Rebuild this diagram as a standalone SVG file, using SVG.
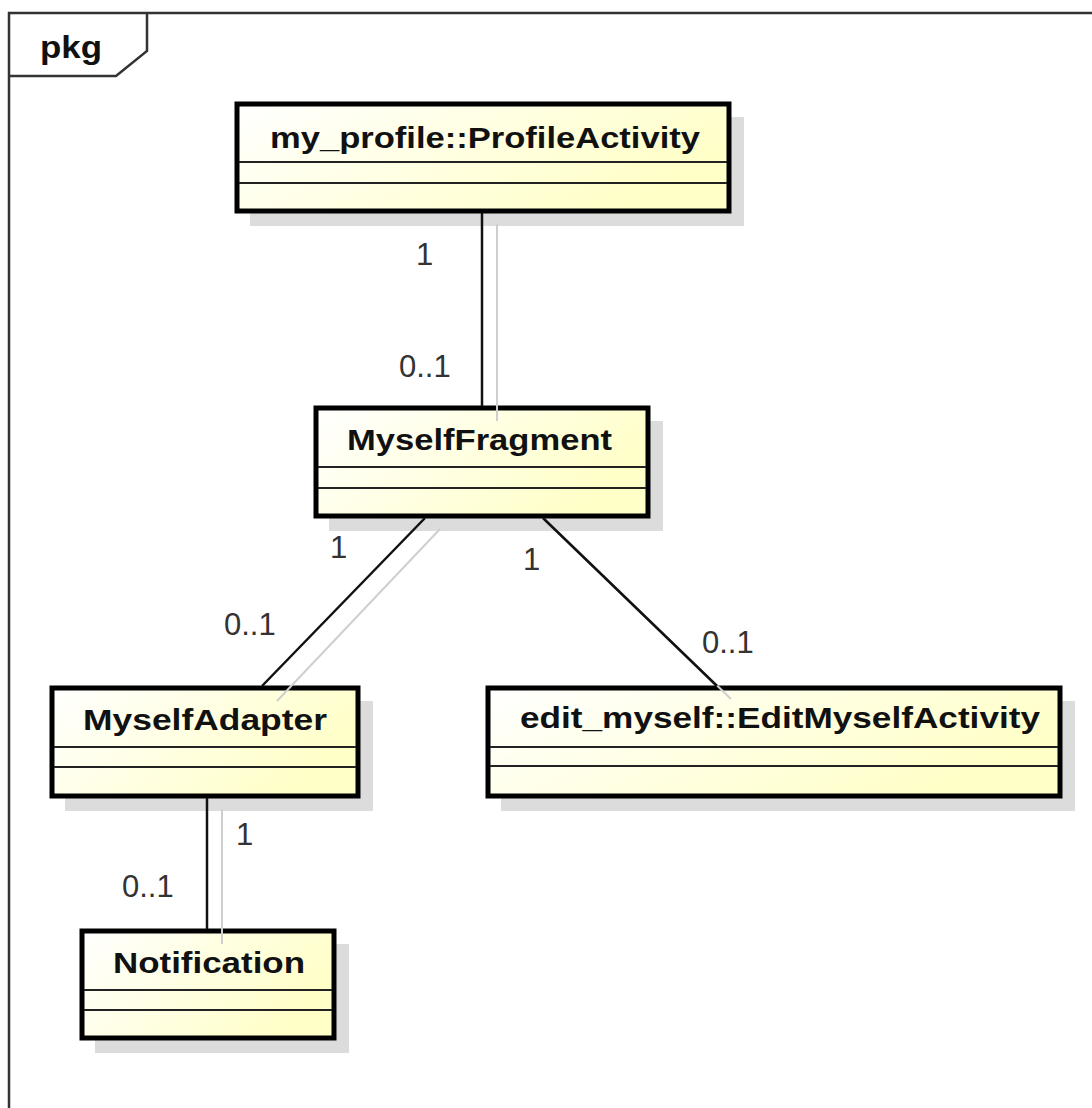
<svg xmlns="http://www.w3.org/2000/svg" width="1092" height="1108" viewBox="0 0 1092 1108">
  <defs>
    <linearGradient id="classFill" x1="0" y1="0" x2="1" y2="0.4">
      <stop offset="0" stop-color="#ffffff"/>
      <stop offset="1" stop-color="#ffffc8"/>
    </linearGradient>
  </defs>
  <style>
    .frame { fill: none; stroke: #333; stroke-width: 2.5; }
    .frame-title { font-family: "Liberation Sans", Arial, sans-serif; font-weight: bold; font-size: 32px; fill: #111; }
    .shadow { fill: #dcdcdc; stroke: none; }
    .box { fill: url(#classFill); stroke: #000; stroke-width: 5; }
    .divider { stroke: #222; stroke-width: 2; }
    .name { font-family: "Liberation Sans", Arial, sans-serif; font-weight: bold; font-size: 29px; fill: #111; }
    .edge { stroke: #111; stroke-width: 2.5; fill: none; }
    .edge-shadow { stroke: #cfcfcf; stroke-width: 2; fill: none; }
    .mult { font-family: "Liberation Sans", Arial, sans-serif; font-size: 31px; fill: #333; }
  </style>

  <rect x="0" y="0" width="1092" height="1108" fill="#ffffff"/>

  <!-- package frame with its name tab -->
  <g id="package-frame">
    <path class="frame" d="M9,1112 L9,13 L1096,13"/>
    <path class="frame" d="M9,76 L116,76 L147,51 L147,13"/>
    <text class="frame-title" x="40" y="58" textLength="62" lengthAdjust="spacingAndGlyphs">pkg</text>
  </g>

  <!-- drop shadows of the classes -->
  <g id="shadows">
    <rect class="shadow" x="250" y="117" width="494" height="109"/>
    <rect class="shadow" x="329" y="421" width="334" height="110"/>
    <rect class="shadow" x="65" y="701" width="308" height="110"/>
    <rect class="shadow" x="501" y="701" width="574" height="110"/>
    <rect class="shadow" x="95" y="944" width="254" height="109"/>
  </g>

  <g id="ProfileActivity">
    <rect class="box" x="237" y="104" width="492" height="107"/>
    <line class="divider" x1="239" y1="162" x2="727" y2="162"/>
    <line class="divider" x1="239" y1="183" x2="727" y2="183"/>
    <text class="name" x="270" y="148" textLength="430" lengthAdjust="spacingAndGlyphs">my_profile::ProfileActivity</text>
  </g>

  <g id="MyselfFragment">
    <rect class="box" x="316" y="408" width="332" height="108"/>
    <line class="divider" x1="318" y1="467" x2="646" y2="467"/>
    <line class="divider" x1="318" y1="488" x2="646" y2="488"/>
    <text class="name" x="347" y="450" textLength="265" lengthAdjust="spacingAndGlyphs">MyselfFragment</text>
  </g>

  <g id="MyselfAdapter">
    <rect class="box" x="52" y="688" width="306" height="108"/>
    <line class="divider" x1="54" y1="747" x2="356" y2="747"/>
    <line class="divider" x1="54" y1="767" x2="356" y2="767"/>
    <text class="name" x="83" y="730" textLength="244" lengthAdjust="spacingAndGlyphs">MyselfAdapter</text>
  </g>

  <g id="EditMyselfActivity">
    <rect class="box" x="488" y="688" width="572" height="108"/>
    <line class="divider" x1="490" y1="747" x2="1058" y2="747"/>
    <line class="divider" x1="490" y1="766" x2="1058" y2="766"/>
    <text class="name" x="520" y="728" textLength="520" lengthAdjust="spacingAndGlyphs">edit_myself::EditMyselfActivity</text>
  </g>

  <g id="Notification">
    <rect class="box" x="82" y="931" width="252" height="107"/>
    <line class="divider" x1="84" y1="990" x2="332" y2="990"/>
    <line class="divider" x1="84" y1="1010" x2="332" y2="1010"/>
    <text class="name" x="113" y="973" textLength="192" lengthAdjust="spacingAndGlyphs">Notification</text>
  </g>

  <!-- associations with their multiplicities -->
  <g id="connectors">
    <line class="edge-shadow" x1="497" y1="224" x2="497" y2="421"/>
    <line class="edge-shadow" x1="440" y1="529" x2="277" y2="701"/>
    <line class="edge-shadow" x1="557" y1="531" x2="731" y2="699"/>
    <line class="edge-shadow" x1="222" y1="809" x2="222" y2="944"/>

    <line class="edge" x1="482" y1="213" x2="482" y2="406"/>
    <line class="edge" x1="425" y1="518" x2="262" y2="686"/>
    <line class="edge" x1="543" y1="518" x2="717" y2="686"/>
    <line class="edge" x1="207" y1="798" x2="207" y2="929"/>

    <text class="mult" x="416" y="265">1</text>
    <text class="mult" x="399" y="377">0..1</text>
    <text class="mult" x="330" y="558">1</text>
    <text class="mult" x="224" y="635">0..1</text>
    <text class="mult" x="523" y="570">1</text>
    <text class="mult" x="702" y="653">0..1</text>
    <text class="mult" x="236" y="845">1</text>
    <text class="mult" x="122" y="897">0..1</text>
  </g>
</svg>
